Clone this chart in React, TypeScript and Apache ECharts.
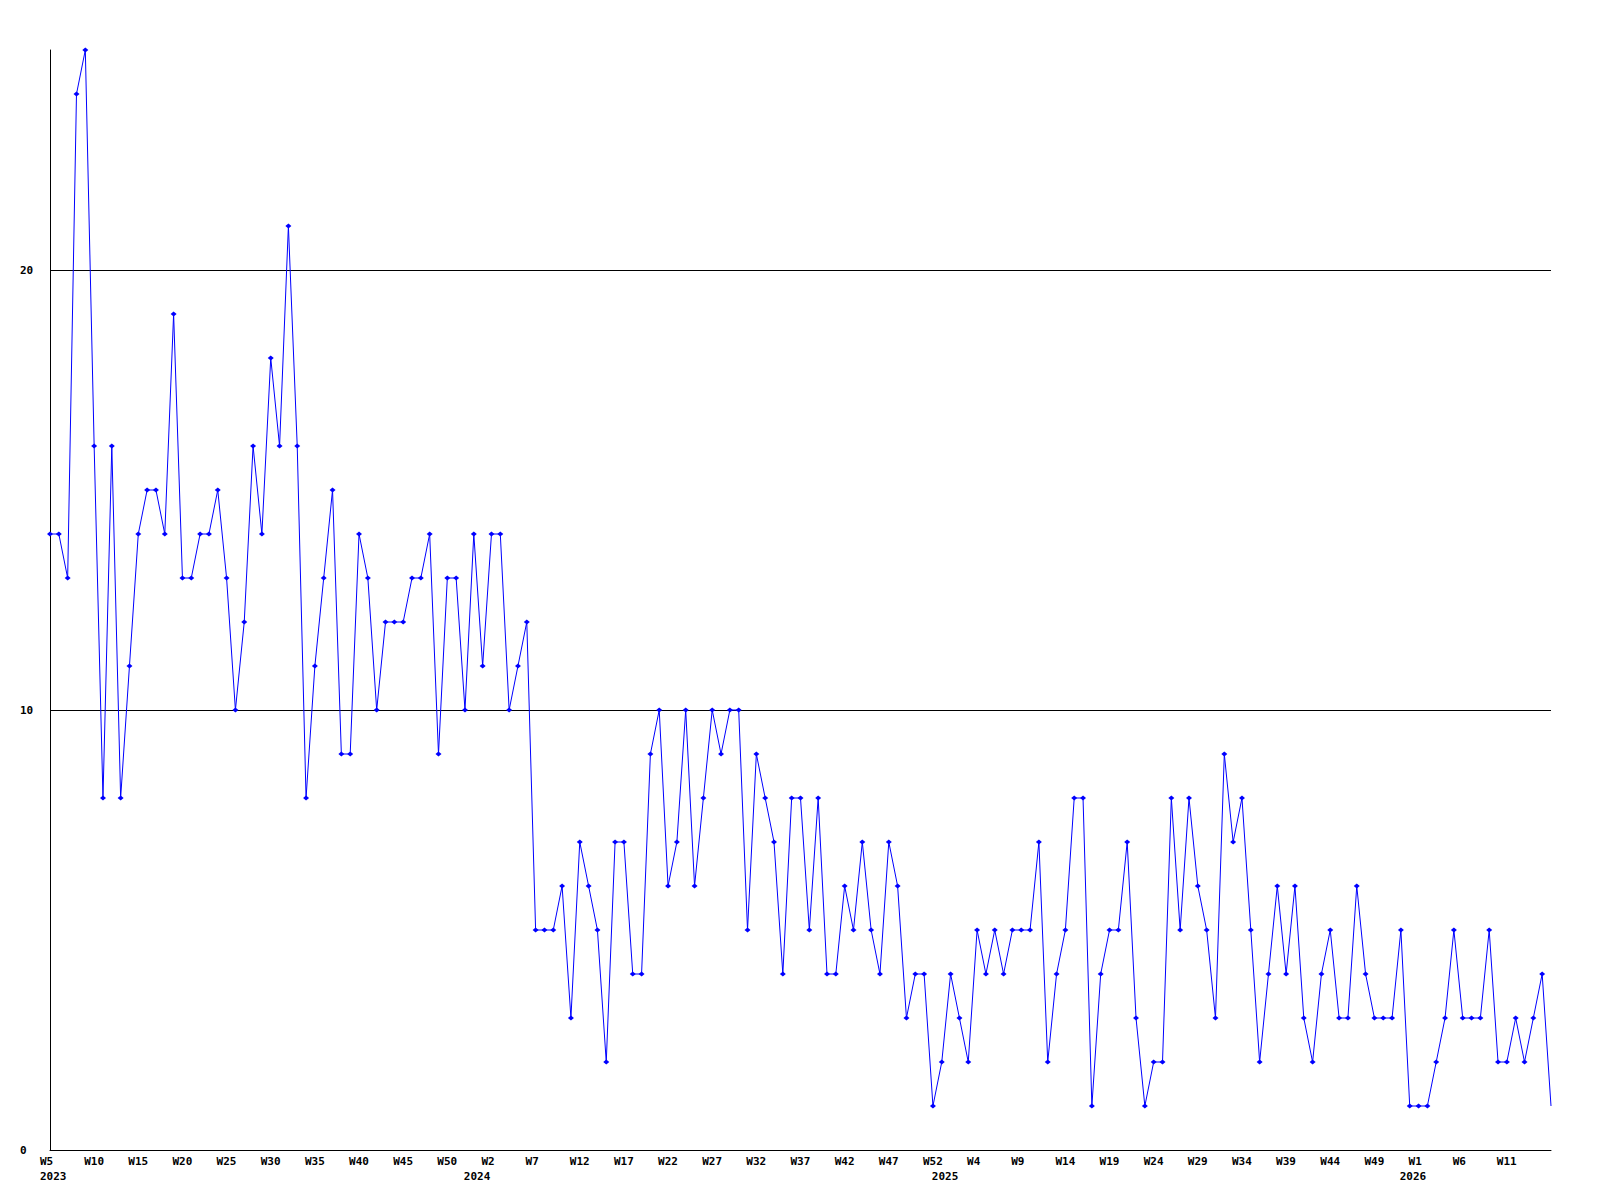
import React, { useEffect, useRef } from "react";
import * as echarts from "echarts";

// Week sequence per year (weekly points, %U-style numbering starting at W0)
const yearSegments = [
  { year: "2023", firstWeek: 5, weeks: 48 },
  { year: "2024", firstWeek: 0, weeks: 53 },
  { year: "2025", firstWeek: 0, weeks: 53 },
  { year: "2026", firstWeek: 0, weeks: 17 },
];

const values = [
  14, 14, 13, 24, 25, 16, 8, 16, 8, 11, 14, 15, 15, 14, 19, 13, 13, 14, 14, 15, 13, 10, 12, 16, 14, 18, 16, 21, 16, 8, 11,
  13, 15, 9, 9, 14, 13, 10, 12, 12, 12, 13, 13, 14, 9, 13, 13, 10, 14, 11, 14, 14, 10, 11, 12, 5, 5, 5, 6, 3, 7,
  6, 5, 2, 7, 7, 4, 4, 9, 10, 6, 7, 10, 6, 8, 10, 9, 10, 10, 5, 9, 8, 7, 4, 8, 8, 5, 8, 4, 4,
  6, 5, 7, 5, 4, 7, 6, 3, 4, 4, 1, 2, 4, 3, 2, 5, 4, 5, 4, 5, 5, 5, 7, 2, 4, 5, 8, 8, 1, 4,
  5, 5, 7, 3, 1, 2, 2, 8, 5, 8, 6, 5, 3, 9, 7, 8, 5, 2, 4, 6, 4, 6, 3, 2, 4, 5, 3, 3, 6,
  4, 3, 3, 3, 5, 1, 1, 1, 2, 3, 5, 3, 3, 3, 5, 2, 2, 3, 2, 3, 4, 1,
];

const yMin = 0;
const yMax = 25;
const yInterval = 10;
const weekLabelEvery = 5;

const categories: string[] = [];
const weekNames: string[] = [];
const yearAt: Record<number, string> = {};
yearSegments.forEach((seg) => {
  yearAt[categories.length] = seg.year;
  for (let k = 0; k < seg.weeks; k++) {
    categories.push(seg.year + "-W" + (seg.firstWeek + k));
    weekNames.push("W" + (seg.firstWeek + k));
  }
});

const FONT = "DejaVu Sans Mono";

export default function App() {
  const ref = useRef<HTMLDivElement>(null);
  useEffect(() => {
    if (!ref.current) return;
    const chart = echarts.init(ref.current, undefined, { renderer: "svg" });
    const labelStyle = {
      color: "#000",
      fontFamily: FONT,
      fontWeight: "bold" as const,
      fontSize: 11,
    };
    const lastIndex = categories.length - 1;
    chart.setOption({
      animation: false,
      backgroundColor: "#ffffff",
      grid: { left: 50, right: 49, top: 50, bottom: 50, containLabel: false },
      xAxis: [
        {
          type: "category",
          data: categories,
          boundaryGap: false,
          axisLine: { show: true, lineStyle: { color: "#000", width: 1 } },
          axisTick: { show: false },
          splitLine: { show: false },
          axisLabel: {
            ...labelStyle,
            interval: (i: number) => i % weekLabelEvery === 0 && i < lastIndex,
            formatter: (_v: string, i: number) => weekNames[i],
            align: "left",
            padding: [0, 0, 0, -10],
            margin: 6,
          },
        },
        {
          type: "category",
          data: categories,
          boundaryGap: false,
          position: "bottom",
          offset: 15,
          axisLine: { show: false },
          axisTick: { show: false },
          splitLine: { show: false },
          axisLabel: {
            ...labelStyle,
            interval: (i: number) => yearAt[i] !== undefined,
            formatter: (_v: string, i: number) => yearAt[i] ?? "",
            align: "left",
            padding: [0, 0, 0, -10],
            margin: 6,
          },
        },
      ],
      yAxis: {
        type: "value",
        min: yMin,
        max: yMax,
        interval: yInterval,
        axisLine: { show: true, lineStyle: { color: "#000", width: 1 } },
        axisTick: { show: false },
        splitLine: {
          show: true,
          showMaxLine: false,
          lineStyle: { color: "#000", width: 1 },
        },
        axisLabel: {
          ...labelStyle,
          showMaxLabel: false,
          align: "left",
          margin: 30,
        },
      },
      series: [
        {
          type: "line",
          xAxisIndex: 0,
          data: values.map((v, i) =>
            i === values.length - 1 ? { value: v, symbol: "none" } : v
          ),
          symbol: "diamond",
          symbolSize: [6, 5],
          showAllSymbol: true,
          lineStyle: { color: "#0000ff", width: 1 },
          itemStyle: { color: "#0000ff" },
        },
      ],
    });
    return () => chart.dispose();
  }, []);
  return (
    <div
      ref={ref}
      style={{ position: "absolute", left: 0, top: 0, width: 1600, height: 1200 }}
    />
  );
}
